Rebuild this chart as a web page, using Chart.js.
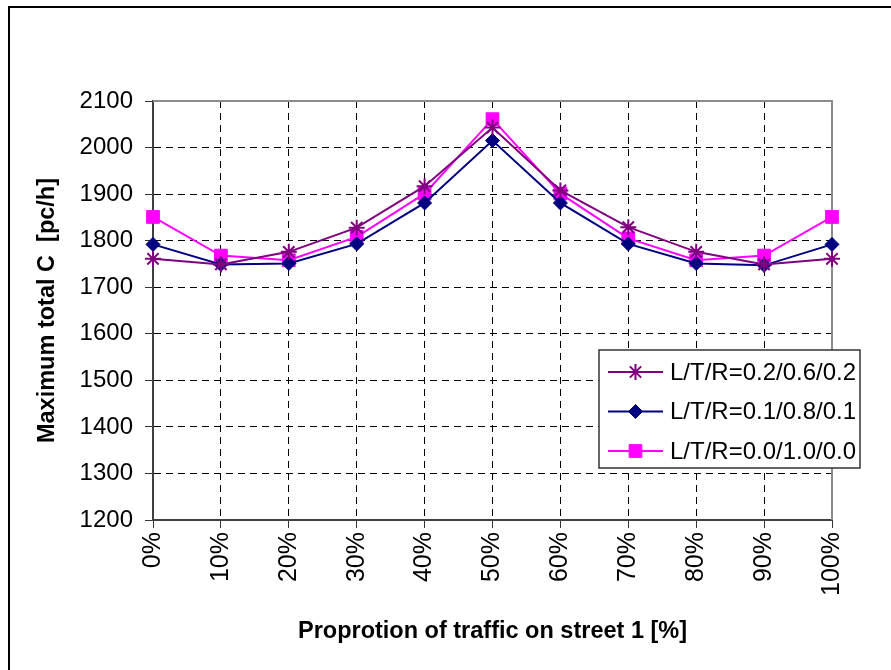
<!DOCTYPE html>
<html>
<head>
<meta charset="utf-8">
<script src="https://cdn.jsdelivr.net/npm/chart.js@4.4.1/dist/chart.umd.min.js"></script>
<style>
  html, body { margin: 0; padding: 0; background: #fff; }
  #wrap { width: 891px; height: 670px; position: relative; }
</style>
</head>
<body>
<div id="wrap"><canvas id="c" width="891" height="670"></canvas></div>
<script>
// Share of traffic on street 1
const categories = ['0%', '10%', '20%', '30%', '40%', '50%', '60%', '70%', '80%', '90%', '100%'];

// Maximum total capacity [pc/h] for each turning split
const seriesNames = ['L/T/R=0.2/0.6/0.2', 'L/T/R=0.1/0.8/0.1', 'L/T/R=0.0/1.0/0.0'];
const splitA = [1761, 1749, 1776, 1828, 1917, 2043, 1908, 1829, 1776, 1749, 1761];
const splitB = [1792, 1749, 1751, 1793, 1881, 2015, 1881, 1793, 1751, 1747, 1792];
const splitC = [1851, 1768, 1758, 1808, 1901, 2061, 1901, 1805, 1758, 1768, 1851];

// Value axis range
const yMin = 1200;
const yMax = 2100;
const yStep = 100;

const FONT = "'Liberation Sans', Arial, sans-serif";

// Outer frame and the grey top/right edge of the plot area
const framePlugin = {
  id: 'frame',
  beforeDraw(chart) {
    const ctx = chart.ctx;
    ctx.save();
    ctx.fillStyle = '#fff';
    ctx.fillRect(0, 0, chart.width, chart.height);
    ctx.strokeStyle = '#000';
    ctx.lineWidth = 2;
    ctx.strokeRect(9, 7, chart.width + 20, chart.height + 20);
    ctx.restore();
  },
  beforeDatasetsDraw(chart) {
    const {ctx, chartArea: a} = chart;
    ctx.save();
    ctx.strokeStyle = '#8c8c8c';
    ctx.lineWidth = 2;
    ctx.beginPath();
    ctx.moveTo(a.left, a.top);
    ctx.lineTo(a.right, a.top);
    ctx.lineTo(a.right, a.bottom);
    ctx.stroke();
    ctx.restore();
  }
};

// Boxed legend inside the lower right of the plot, line + marker samples
const boxLegend = {
  id: 'boxLegend',
  afterDatasetsDraw(chart) {
    const {ctx, chartArea: a} = chart;
    const w = 261, h = 118;
    const x0 = a.right + 28 - w;
    const y0 = 350;
    ctx.save();
    ctx.fillStyle = '#fff';
    ctx.fillRect(x0, y0, w, h);
    ctx.strokeStyle = '#333';
    ctx.lineWidth = 1.5;
    ctx.strokeRect(x0, y0, w, h);
    ctx.font = '24px ' + FONT;
    ctx.textBaseline = 'middle';
    ctx.textAlign = 'left';
    chart.data.datasets.forEach((ds, i) => {
      const cy = y0 + 22 + i * 39.5;
      const lx1 = x0 + 9, lx2 = x0 + 64;
      ctx.strokeStyle = ds.borderColor;
      ctx.lineWidth = ds.borderWidth;
      ctx.beginPath();
      ctx.moveTo(lx1, cy);
      ctx.lineTo(lx2, cy);
      ctx.stroke();
      ctx.fillStyle = ds.pointBackgroundColor;
      ctx.strokeStyle = ds.pointBorderColor;
      ctx.lineWidth = ds.pointBorderWidth;
      Chart.helpers.drawPoint(ctx, {
        pointStyle: ds.pointStyle,
        radius: ds.pointRadius,
        rotation: 0,
        borderWidth: ds.pointBorderWidth
      }, (lx1 + lx2) / 2, cy);
      ctx.fillStyle = '#000';
      ctx.fillText(ds.label, x0 + 71, cy + 1);
    });
    ctx.restore();
  }
};

function series(label, data, color, style, radius) {
  return {
    label, data,
    borderColor: color,
    backgroundColor: color,
    pointBackgroundColor: color,
    pointBorderColor: color,
    borderWidth: 2,
    pointStyle: style,
    pointRadius: radius,
    pointHoverRadius: radius,
    pointBorderWidth: style === 'star' ? 2 : 1,
    tension: 0,
    clip: false
  };
}

const chart = new Chart(document.getElementById('c'), {
  type: 'line',
  data: {
    labels: categories,
    datasets: [
      series(seriesNames[0], splitA, '#800080', 'star', 8),
      series(seriesNames[1], splitB, '#000080', 'rectRot', 7),
      series(seriesNames[2], splitC, '#ff00ff', 'rect', 9)
    ]
  },
  options: {
    responsive: false,
    animation: false,
    events: [],
    layout: { padding: { top: 101, right: 59, left: 0, bottom: 0 } },
    plugins: { legend: { display: false }, tooltip: { enabled: false } },
    scales: {
      x: {
        type: 'category',
        offset: false,
        grid: {
          offset: false,
          color: '#000',
          lineWidth: 1,
          tickLength: 8,
          tickColor: '#333',
          tickBorderDash: []
        },
        border: { display: true, color: '#404040', width: 2, dash: [7, 5] },
        ticks: {
          minRotation: 90, maxRotation: 90,
          padding: 4,
          color: '#000',
          font: { family: FONT, size: 25 }
        },
        title: {
          display: true,
          text: 'Proprotion of traffic on street 1 [%]',
          color: '#000',
          font: { family: FONT, size: 23.5, weight: 'bold' },
          padding: { top: 0, bottom: 24 }
        },
        afterFit(scale) { scale.height = 150; }
      },
      y: {
        min: yMin, max: yMax,
        grid: {
          color: '#000',
          lineWidth: 1,
          tickLength: 8,
          tickColor: '#333',
          tickBorderDash: []
        },
        border: { display: true, color: '#404040', width: 2, dash: [7, 5] },
        ticks: {
          stepSize: yStep,
          padding: 12,
          color: '#000',
          font: { family: FONT, size: 24 },
          callback: (v) => String(v)
        },
        title: {
          display: true,
          text: 'Maximum total C  [pc/h]',
          color: '#000',
          font: { family: FONT, size: 23.5, weight: 'bold' },
          padding: { top: 33, bottom: 0 }
        },
        afterFit(scale) { scale.width = 153; }
      }
    }
  },
  plugins: [framePlugin, boxLegend]
});
</script>
</body>
</html>
